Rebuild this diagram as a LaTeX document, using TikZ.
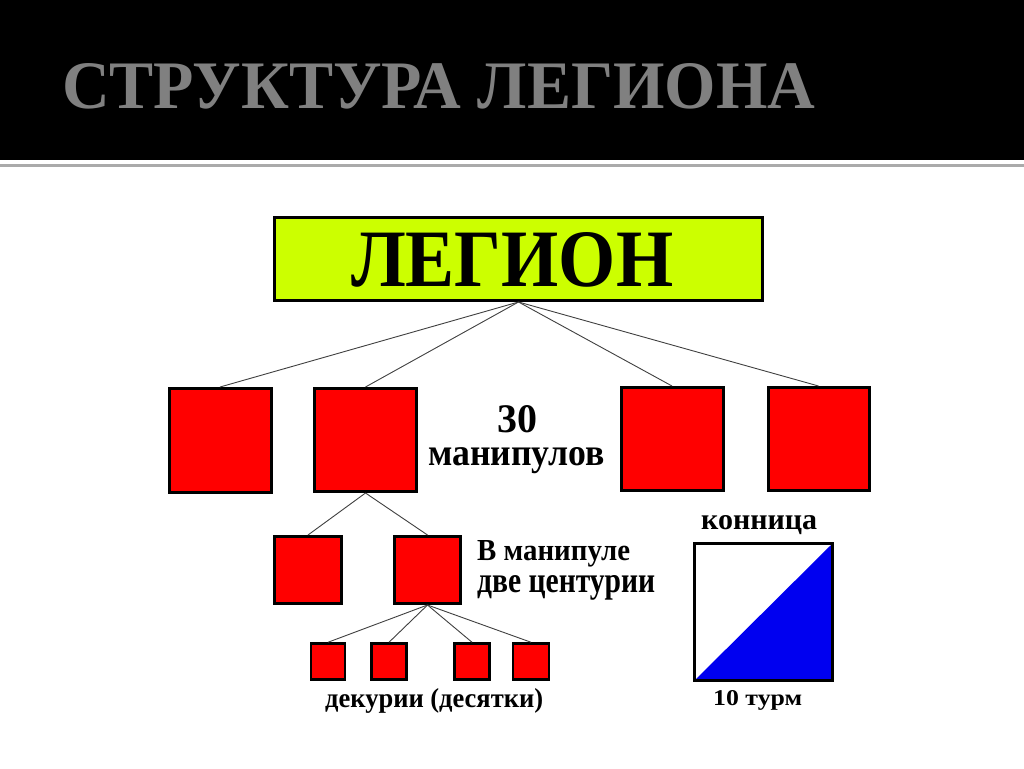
\documentclass[tikz,border=0pt]{standalone}
\usepackage{fontspec}
\setmainfont{Liberation Serif}
\usepackage{graphicx}
\definecolor{titlegray}{RGB}{128,128,128}
\definecolor{lime}{RGB}{204,255,0}
\definecolor{unitred}{RGB}{255,0,0}
\definecolor{cavblue}{RGB}{0,0,240}
\definecolor{rulegray}{RGB}{170,170,170}
\begin{document}
\begin{tikzpicture}[x=1pt,y=-1pt,
  unit/.style={draw=black,line width=3pt,fill=unitred,inner sep=0pt},
  link/.style={draw=black!75,line width=0.9pt},
  lbl/.style={anchor=base west,inner sep=0pt,font=\bfseries}]
\useasboundingbox (0,0) rectangle (1024,768);
\fill[white] (0,0) rectangle (1024,768);
\fill[black] (0,0) rectangle (1024,160);
\draw[rulegray,line width=3pt] (0,165) -- (1024,165);
\node[anchor=base west,inner sep=0pt,text=titlegray,font=\bfseries] (title) at (62,108)
  {\resizebox{753pt}{45pt}{СТРУКТУРА ЛЕГИОНА}};
% legion
\node[draw=black,line width=3pt,fill=lime,minimum width=488pt,minimum height=83pt,inner sep=0pt] (legion) at (518.5,259) {};
\node[lbl] (legiontxt) at (351,286) {\resizebox{322pt}{54pt}{ЛЕГИОН}};
% manipules
\node[unit,minimum width=102pt,minimum height=104pt] (m1) at (220,440.5) {};
\node[unit,minimum width=102pt,minimum height=103pt] (m2) at (365.5,440) {};
\node[unit,minimum width=102pt,minimum height=103pt] (m3) at (672,439) {};
\node[unit,minimum width=101pt,minimum height=103pt] (m4) at (818.5,439) {};
\foreach \m in {m1,m2,m3,m4} \draw[link] (legion.south) -- (\m.north);
\node[lbl] (t30) at (497,432) {\resizebox{40pt}{27pt}{30}};
\node[lbl] (tman) at (428,465) {\resizebox{177pt}{18pt}{манипулов}};
% centuries
\node[unit,minimum width=67pt,minimum height=67pt] (c1) at (308,570) {};
\node[unit,minimum width=66pt,minimum height=67pt] (c2) at (427.5,570) {};
\draw[link] (m2.south) -- (c1.north);
\draw[link] (m2.south) -- (c2.north);
\node[lbl] (tcen1) at (477,560) {\resizebox{153pt}{20pt}{В манипуле}};
\node[lbl] (tcen2) at (477,592) {\resizebox{178pt}{17pt}{две центурии}};
% decuries
\node[unit,line width=2.5pt,minimum width=34pt,minimum height=36pt] (d1) at (328,661.5) {};
\node[unit,line width=2.5pt,minimum width=35pt,minimum height=36pt] (d2) at (389,661.5) {};
\node[unit,line width=2.5pt,minimum width=35pt,minimum height=36pt] (d3) at (472,661.5) {};
\node[unit,line width=2.5pt,minimum width=36pt,minimum height=36pt] (d4) at (531,661.5) {};
\foreach \d in {d1,d2,d3,d4} \draw[link] (c2.south) -- (\d.north);
\node[lbl] (tdec) at (325,707) {\resizebox{218pt}{19pt}{декурии (десятки)}};
% cavalry
\node[minimum width=138pt,minimum height=137pt,inner sep=0pt,fill=white] (cav) at (763.5,612) {};
\fill[cavblue] (cav.south west) -- (cav.north east) -- (cav.south east) -- cycle;
\draw[black,line width=3pt] (cav.south west) rectangle (cav.north east);
\node[lbl] (tkon) at (701,529) {\resizebox{116pt}{14pt}{конница}};
\node[lbl] (tturm) at (713,705) {\resizebox{89pt}{15pt}{10 турм}};
\end{tikzpicture}
\end{document}
